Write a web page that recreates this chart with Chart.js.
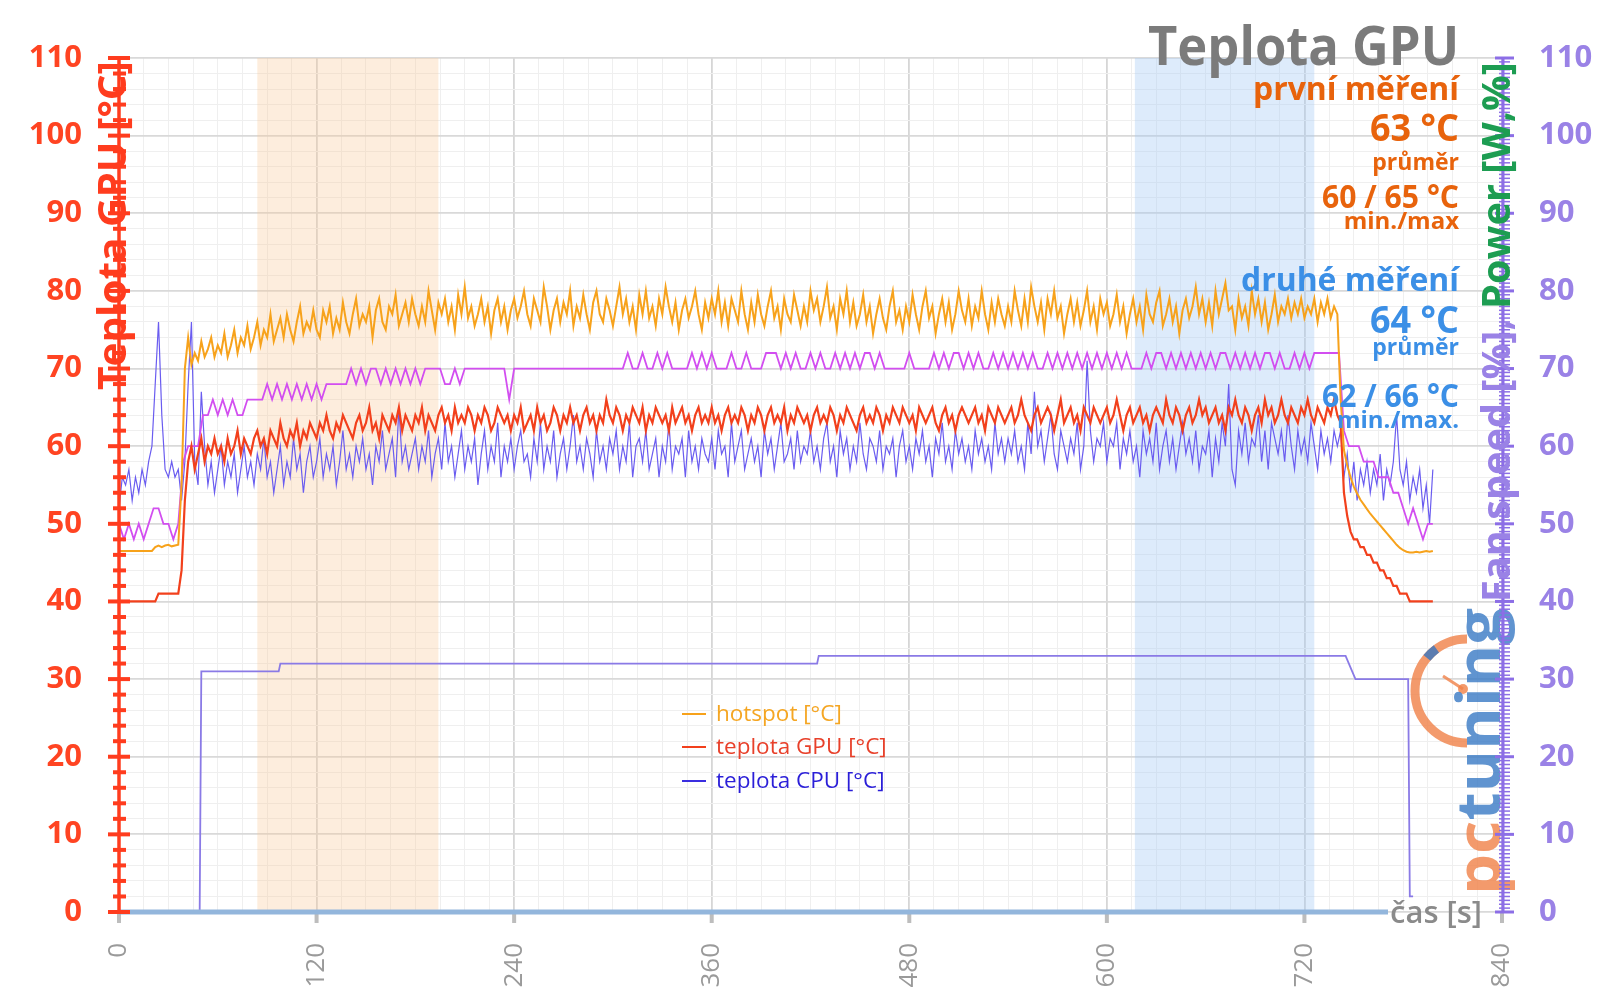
<!DOCTYPE html>
<html>
<head>
<meta charset="utf-8">
<script src="https://cdn.jsdelivr.net/npm/chart.js@4.4.1/dist/chart.umd.min.js"></script>
<style>
  html, body { margin: 0; padding: 0; background: #fff; }
  #wrap { width: 1600px; height: 1008px; position: relative; }
</style>
</head>
<body>
<div id="wrap"><canvas id="chart"></canvas></div>
<script>
// ── Data ──────────────────────────────────────────────────

// temperatures: one sample every 2 s
const TEMP_STEP_S = 2;

const HOTSPOT = [
  46.5,46.5,46.5,46.5,46.5,46.5,46.5,46.5,46.5,46.5,46.5,47.0,47.2,47.0,47.2,47.3,47.1,47.2,47.3,55,70,74,70.5,72,71,73.5,71.5,72.5,74,71.5,
  73,72,74.5,71.5,73,75,72,74,73,75.5,72.5,74,76,73,75,74,77,73.5,75,76.5,74,77,75,73.5,76,78,74.5,76,75,77.5,
  75,74,77.5,76,78,74.5,76.5,75,78.5,76,74.5,77,79,75.5,77,76,78,74,77.5,79,76,75,78,77,79.5,75.5,77,78.5,76,79,
  77,75.5,78,76,80,77.5,75,78.5,77,79,76,78,75,79.5,77,80.5,76.5,78,75.5,77,79,76,78,74.5,77.5,79,76,78,75,77.5,
  79,76.5,78,80,77,75.5,79,77.5,76,80.5,78,75,77.5,79,76,78.5,77,80,75.5,78,76.5,79.5,77,75,78.5,80,77,76,79,77.5,
  75.5,78,80.5,77,79,76,78,75,79.5,77,80,76.5,78,75.5,79,77,80.5,78,76,78.5,75,77.5,79,76.5,78,80,77,75,78.5,76.5,
  79,77,80,76,78.5,75.5,79,77.5,76,80,77,75,78.5,76,79.5,77,75.5,78,80,76.5,78,75,79,77,76,79.5,77.5,75.5,78,76,
  80,77.5,79,76,78,80.5,76.5,78,75,79,77,80,76,78.5,75.5,77,79.5,76,78,74.5,77,79,76.5,75,78,80,76,77.5,75,78,
  76,79.5,77,75,78,80,76.5,78,74.5,77,79,76,78.5,75,77,80,77.5,76,79,75.5,78,76.5,80,77,75,78.5,76,79,77,75.5,
  78,76,80,77.5,75.5,79,76,80.5,78,76,78.5,75,79,77,80,76.5,78,74.5,77,79,76,78.5,75.5,77.5,80,76,78,75,79,77,
  78.5,75.5,77,79.5,76,78,74.5,77,79,76,78,75,79.5,77,76,78.5,80,75.5,77,79,76,78,74.5,77.5,79,76.5,78,80.5,77,79,
  76,78.5,75.5,80,77,79,81,77.5,78,75,79,76.5,78,75.5,80,77,79,76,78.5,75,77,79.5,76,78,77,79,76.5,78.5,77,79,
  76.5,78,77,79,76,78.5,77,79,76.5,78,77,66,59.5,57.5,56,54.8,53.9,53.1,52.5,51.9,51.3,50.8,50.3,49.8,49.3,48.8,48.3,47.8,47.3,46.9,
  46.6,46.4,46.3,46.3,46.4,46.3,46.4,46.5,46.4,46.5
];

const GPU_TEMP = [
  40,40,40,40,40,40,40,40,40,40,40,40,41,41,41,41,41,41,41,44,53,58,60,57,59,61,58,60,59,61,
  59,60,58,61,59,60,62,59,61,60,59,61,62,60,61,59,62,61,60,63,61,60,62,61,63,60,62,61,63,62,
  61,63,62,64,62,61,63,62,64,63,62,61,63,64,62,63,65,62,63,61,64,63,62,64,63,65,62,64,63,62,
  64,63,65,62,64,63,62,64,65,63,64,62,65,63,64,63,65,64,62,64,63,65,64,62,63,65,64,63,64,62,
  64,63,65,62,63,64,62,65,63,64,62,63,65,64,62,64,63,65,63,64,62,64,65,63,64,62,64,63,66,64,
  63,65,64,62,64,63,65,64,63,65,62,64,63,65,64,63,64,62,65,63,64,65,63,64,62,64,65,63,64,63,
  65,63,64,62,64,65,63,64,63,65,64,62,64,63,65,64,62,64,65,63,64,63,65,62,64,63,65,64,63,64,
  62,64,65,63,64,63,65,64,62,64,63,65,64,63,62,64,65,63,64,63,65,64,62,64,63,65,64,63,65,64,
  63,64,62,65,64,63,64,65,63,62,64,65,63,64,62,64,65,64,63,64,65,63,64,62,65,64,63,65,64,63,
  64,65,63,64,66,64,63,62,64,65,63,64,65,64,62,64,66,63,64,65,63,64,62,65,64,63,65,64,63,64,
  65,63,64,66,64,62,64,65,63,64,65,63,64,62,64,65,64,63,66,64,63,65,64,62,64,65,63,64,66,64,
  65,63,64,65,63,64,62,65,64,66,64,63,65,64,62,64,65,63,66,64,65,63,64,66,64,63,65,64,63,65,
  64,66,64,63,65,64,63,65,64,66,64,63,54,51,49,48,48,47,47,46,46,45,45,44,44,43,43,42,42,41,
  41,41,40,40,40,40,40,40,40,40
];

const CPU_TEMP = [
  52,56,55,57,53,56,54,57,55,58,60,68,76,64,57,56,58,56,57,53,58,68,76,58,55,67,60,55,58,54,
  57,60,55,58,56,59,54,57,60,56,58,55,59,57,61,56,58,54,57,60,55,58,56,61,57,59,54,58,60,56,
  58,61,56,59,57,60,55,58,62,57,59,56,60,58,61,57,59,55,60,58,62,57,59,61,56,65,58,60,57,59,
  61,57,60,58,62,56,59,61,57,63,58,60,56,59,62,57,60,58,61,55,59,62,57,60,58,63,56,60,58,61,
  57,60,62,58,59,56,61,58,63,57,60,58,62,56,59,61,57,60,64,58,60,57,61,59,56,62,58,60,57,61,
  59,62,57,60,58,63,56,60,61,58,62,57,59,61,56,60,58,63,57,60,59,61,56,62,58,60,57,61,59,58,
  61,57,62,59,60,56,63,58,60,62,57,59,61,58,60,56,62,59,61,57,60,63,58,59,61,57,62,58,60,59,
  62,58,60,57,61,63,58,60,56,62,59,61,57,60,58,63,59,57,61,60,58,62,57,60,59,61,56,60,62,58,
  60,57,61,59,62,58,60,56,61,59,63,58,60,57,62,59,61,58,60,57,62,59,61,58,60,57,63,59,61,58,
  61,59,62,58,60,57,63,59,67,60,62,58,61,64,59,57,62,60,58,61,59,63,57,60,71,62,58,61,60,63,
  58,61,60,63,57,61,59,62,58,60,56,62,59,61,58,63,57,60,62,58,61,57,60,63,59,61,58,62,57,60,
  59,62,56,61,58,63,60,68,57,55,62,59,63,58,61,60,64,58,62,57,63,61,59,62,58,64,60,57,62,59,
  61,58,63,60,57,62,59,61,58,62,60,62,56,59,54,58,53,57,55,58,54,57,55,59,53,57,55,58,64,57,
  55,58,53,56,54,57,52,55,50,57
];

// magenta trace: one sample every 3 s
const POWER_STEP_S = 3;

const POWER_PCT = [
  50,48,50,48,50,48,50,52,52,50,50,48,50,58,60,60,60,64,64,66,
  64,66,64,66,64,64,66,66,66,66,68,66,68,66,68,66,68,66,68,66,
  68,66,68,68,68,68,68,70,68,70,68,70,70,68,70,68,70,68,70,68,
  70,68,70,70,70,70,68,68,70,68,70,70,70,70,70,70,70,70,70,66,
  70,70,70,70,70,70,70,70,70,70,70,70,70,70,70,70,70,70,70,70,
  70,70,70,72,70,70,72,70,70,72,70,72,70,70,70,70,72,70,72,70,
  72,70,70,70,72,70,70,72,70,70,70,72,72,72,70,72,70,72,70,70,
  72,70,72,70,70,72,70,72,70,72,70,72,72,70,72,70,70,70,70,70,
  72,70,70,70,70,72,70,72,70,72,72,70,72,70,72,70,70,72,70,72,
  70,72,70,72,70,72,70,70,72,70,72,70,72,70,72,70,72,70,72,70,
  72,70,72,70,72,70,70,70,72,70,72,72,70,72,70,72,70,72,70,72,
  70,72,70,72,72,70,72,70,72,70,72,70,72,72,70,72,70,70,72,70,
  72,70,72,72,72,72,72,72,62,60,60,60,58,58,58,56,56,56,54,54,
  52,50,52,50,48,50,50
];

// fan speed breakpoints (seconds / %)
const FAN_T = [0, 49, 50, 97, 98, 424, 425, 745, 747, 749, 751, 783, 784, 786];
const FAN_V = [0, 0, 31, 31, 32, 32, 33, 33, 32, 31, 30, 30, 2, 2];

const BAND_FIRST = [84, 194];
const BAND_SECOND = [617, 726];

const X_MAX = 840;
const Y_MAX = 110;

// ── Helpers ───────────────────────────────────────────────

const FONT = '"Open Sans", "DejaVu Sans", sans-serif';

const toXY = (vals, step) => vals.map((v, i) => ({ x: i * step, y: v }));

function seg(ctx, x0, y0, x1, y1) {
  ctx.beginPath();
  ctx.moveTo(x0, y0);
  ctx.lineTo(x1, y1);
  ctx.stroke();
}

function label(ctx, s, x, y, size, color, maxW, weight = 'bold', align = 'right') {
  ctx.font = `${weight} ${size}px ${FONT}`;
  ctx.fillStyle = color;
  ctx.textAlign = align;
  ctx.textBaseline = 'alphabetic';
  if (maxW) ctx.fillText(s, x, y, maxW);
  else ctx.fillText(s, x, y);
}

// two-colour rotated text, squeezed to a given length
function rotatedPair(ctx, x, y, size, parts, len) {
  ctx.save();
  ctx.translate(x, y);
  ctx.rotate(-Math.PI / 2);
  ctx.font = `bold ${size}px ${FONT}`;
  ctx.textAlign = 'left';
  ctx.textBaseline = 'alphabetic';
  const widths = parts.map(p => ctx.measureText(p[0]).width);
  const total = widths.reduce((s, w) => s + w, 0);
  ctx.scale(len / total, 1);
  let off = 0;
  parts.forEach((p, i) => {
    ctx.fillStyle = p[1];
    ctx.fillText(p[0], off, 0);
    off += widths[i];
  });
  ctx.restore();
}

function drawLogo(ctx) {
  ctx.save();
  ctx.globalAlpha = 0.82;
  const cx = 1467, cy = 691, r = 52;
  ctx.strokeStyle = '#f0844c';
  ctx.lineWidth = 9;
  ctx.beginPath();
  ctx.arc(cx, cy, r, Math.PI * 0.5, Math.PI * 1.5);
  ctx.stroke();
  ctx.strokeStyle = '#3b78c0';
  ctx.beginPath();
  ctx.arc(cx, cy, r, Math.PI * 1.22, Math.PI * 1.3);
  ctx.stroke();
  ctx.strokeStyle = '#f0844c';
  ctx.lineWidth = 3;
  seg(ctx, cx - 4, cy - 2, cx - 24, cy - 15);
  ctx.fillStyle = '#f0844c';
  ctx.beginPath();
  ctx.arc(cx - 4, cy - 2, 5, 0, Math.PI * 2);
  ctx.fill();
  ctx.restore();
  ctx.save();
  ctx.globalAlpha = 0.82;
  rotatedPair(ctx, 1500, 895, 60, [['pc', '#f0844c'], ['tuning', '#3d7cc6']], 287);
  ctx.restore();
}

// ── Plugins ───────────────────────────────────────────────

const bandsPlugin = {
  id: 'bands',
  beforeDatasetsDraw(chart) {
    const { ctx, chartArea: a, scales: { x } } = chart;
    ctx.save();
    [[BAND_FIRST, 'rgba(250,200,150,0.32)'], [BAND_SECOND, 'rgba(160,200,245,0.36)']].forEach(([b, c]) => {
      const x0 = x.getPixelForValue(b[0]);
      const x1 = x.getPixelForValue(b[1]);
      ctx.fillStyle = c;
      ctx.fillRect(x0, a.top, x1 - x0, a.bottom - a.top);
    });
    ctx.restore();
  },
};

const decorPlugin = {
  id: 'decor',
  afterDatasetsDraw(chart) {
    const { ctx, chartArea: a, scales: { x, y } } = chart;
    drawLogo(ctx);
    ctx.save();
    ctx.lineCap = 'butt';

    // bottom axis
    ctx.strokeStyle = '#bdbdbd';
    ctx.lineWidth = 4;
    for (let t = 0; t <= X_MAX; t += 120) {
      const px = x.getPixelForValue(t);
      seg(ctx, px, a.bottom, px, a.bottom + 11);
    }
    ctx.strokeStyle = '#93b6dc';
    ctx.lineWidth = 5;
    seg(ctx, a.left, a.bottom, 1388, a.bottom);
    label(ctx, 'čas [s]', 1390, a.bottom + 11, 31, '#8a8a8a', 100, '600', 'left');

    // left axis
    ctx.strokeStyle = '#ff3c1e';
    ctx.lineWidth = 3.5;
    seg(ctx, a.left, a.top, a.left, a.bottom);
    ctx.lineWidth = 4;
    for (let v = 0; v <= Y_MAX; v += 2) {
      const py = y.getPixelForValue(v);
      if (v % 10 === 0) seg(ctx, a.left - 11, py, a.left + 11, py);
      else seg(ctx, a.left - 6, py, a.left + 7, py);
    }

    // right axis
    ctx.strokeStyle = '#8c6ee6';
    ctx.lineWidth = 3;
    seg(ctx, a.right + 1, a.top, a.right + 1, a.bottom);
    for (let v = 0; v <= Y_MAX; v += 0.5) {
      const py = y.getPixelForValue(v);
      if (v % 10 === 0) { ctx.lineWidth = 3; seg(ctx, a.right - 7, py, a.right + 12, py); }
      else { ctx.lineWidth = 1.5; seg(ctx, a.right - 3, py, a.right + 8, py); }
    }

    // axis titles
    rotatedPair(ctx, 126, 390, 40, [['Teplota GPU [°C]', '#ff3c1e']], 329);
    rotatedPair(ctx, 1510, 602, 40, [['Fan speed [%], ', '#9a82e6'], ['Power [W,%]', '#1d9d52']], 540);

    // title and summary
    const R = 1459;
    label(ctx, 'Teplota GPU', R, 65, 54, '#7b7b7b', 311);
    const o = '#e8630c', b = '#3b8fe6';
    label(ctx, 'první měření', R, 100, 32, o, 206);
    label(ctx, '63 °C', R, 141, 38, o, 89);
    label(ctx, 'průměr', R, 170, 23, o, 90);
    label(ctx, '60 / 65 °C', R, 208, 33, o, 137);
    label(ctx, 'min./max', R, 229, 24, o, 116);
    label(ctx, 'druhé měření', R, 291, 32, b, 218);
    label(ctx, '64 °C', R, 333, 38, b, 89);
    label(ctx, 'průměr', R, 355, 23, b, 90);
    label(ctx, '62 / 66 °C', R, 407, 33, b, 137);
    label(ctx, 'min./max.', R, 428, 24, b, 122);

    // legend
    [['hotspot [°C]', '#f7a21b', '#f5a623', 714],
     ['teplota GPU [°C]', '#f2401c', '#e8402a', 747],
     ['teplota CPU [°C]', '#3a2ee0', '#2a1ed8', 781]].forEach(([s, lc, tc, ly]) => {
      ctx.strokeStyle = lc;
      ctx.lineWidth = 2;
      seg(ctx, 682, ly, 706, ly);
      ctx.font = `22.5px ${FONT}`;
      ctx.fillStyle = tc;
      ctx.textAlign = 'left';
      ctx.textBaseline = 'middle';
      ctx.fillText(s, 716, ly + 1);
    });
    ctx.restore();
  },
};

// ── Chart ─────────────────────────────────────────────────

const fanData = FAN_T.map((t, i) => ({ x: t, y: FAN_V[i] }));

const lineSet = (data, color, width, order, yAxisID = 'y') => ({
  data, borderColor: color, borderWidth: width, pointRadius: 0,
  tension: 0, fill: false, order, yAxisID,
});

const isMajorY = c => c.tick && c.tick.value % 10 === 0;
const isMajorX = c => c.tick && c.tick.value % 120 === 0;

new Chart(document.getElementById('chart'), {
  type: 'line',
  data: {
    datasets: [
      lineSet(toXY(HOTSPOT, TEMP_STEP_S), '#f7a21b', 2, 1),
      lineSet(toXY(GPU_TEMP, TEMP_STEP_S), '#f2401c', 2.2, 2),
      lineSet(toXY(POWER_PCT, POWER_STEP_S), '#d24ef0', 1.8, 3, 'y2'),
      lineSet(toXY(CPU_TEMP, TEMP_STEP_S), '#6a5cf0', 1.2, 4),
      lineSet(fanData, '#8a7ae6', 1.8, 5, 'y2'),
    ],
  },
  options: {
    responsive: true,
    maintainAspectRatio: false,
    devicePixelRatio: 1,
    animation: false,
    layout: { padding: { top: 58, left: 0, right: 0, bottom: 0 } },
    plugins: { legend: { display: false }, tooltip: { enabled: false } },
    scales: {
      x: {
        type: 'linear', min: 0, max: X_MAX,
        border: { display: false },
        grid: {
          color: c => isMajorX(c) ? '#d6d6d6' : '#efefef',
          lineWidth: c => isMajorX(c) ? 1.8 : 1,
          drawTicks: false,
        },
        ticks: {
          stepSize: 15, autoSkip: false, minRotation: 90, maxRotation: 90, padding: 31,
          color: '#9a9a9a', font: { family: FONT, size: 26 },
          callback: v => v % 120 === 0 ? String(v) : '',
        },
        afterFit: s => { s.height = 96; },
      },
      y: {
        position: 'left', min: 0, max: Y_MAX,
        border: { display: false },
        grid: {
          color: c => isMajorY(c) ? '#d9d9d9' : '#efefef',
          lineWidth: c => isMajorY(c) ? 1.8 : 1,
          drawTicks: false,
        },
        ticks: {
          stepSize: 2, autoSkip: false, padding: 37,
          color: '#ff4422', font: { family: FONT, size: 31, weight: 'bold' },
          callback: v => v % 10 === 0 ? String(v) : '',
        },
        afterFit: s => { s.width = 119; },
      },
      y2: {
        position: 'right', min: 0, max: Y_MAX,
        border: { display: false },
        grid: { drawOnChartArea: false, drawTicks: false },
        ticks: {
          stepSize: 2, autoSkip: false, padding: 37,
          color: '#9a82e6', font: { family: FONT, size: 31, weight: 'bold' },
          callback: v => v % 10 === 0 ? String(v) : '',
        },
        afterFit: s => { s.width = 98; },
      },
    },
  },
  plugins: [bandsPlugin, decorPlugin],
});
</script>
</body>
</html>
